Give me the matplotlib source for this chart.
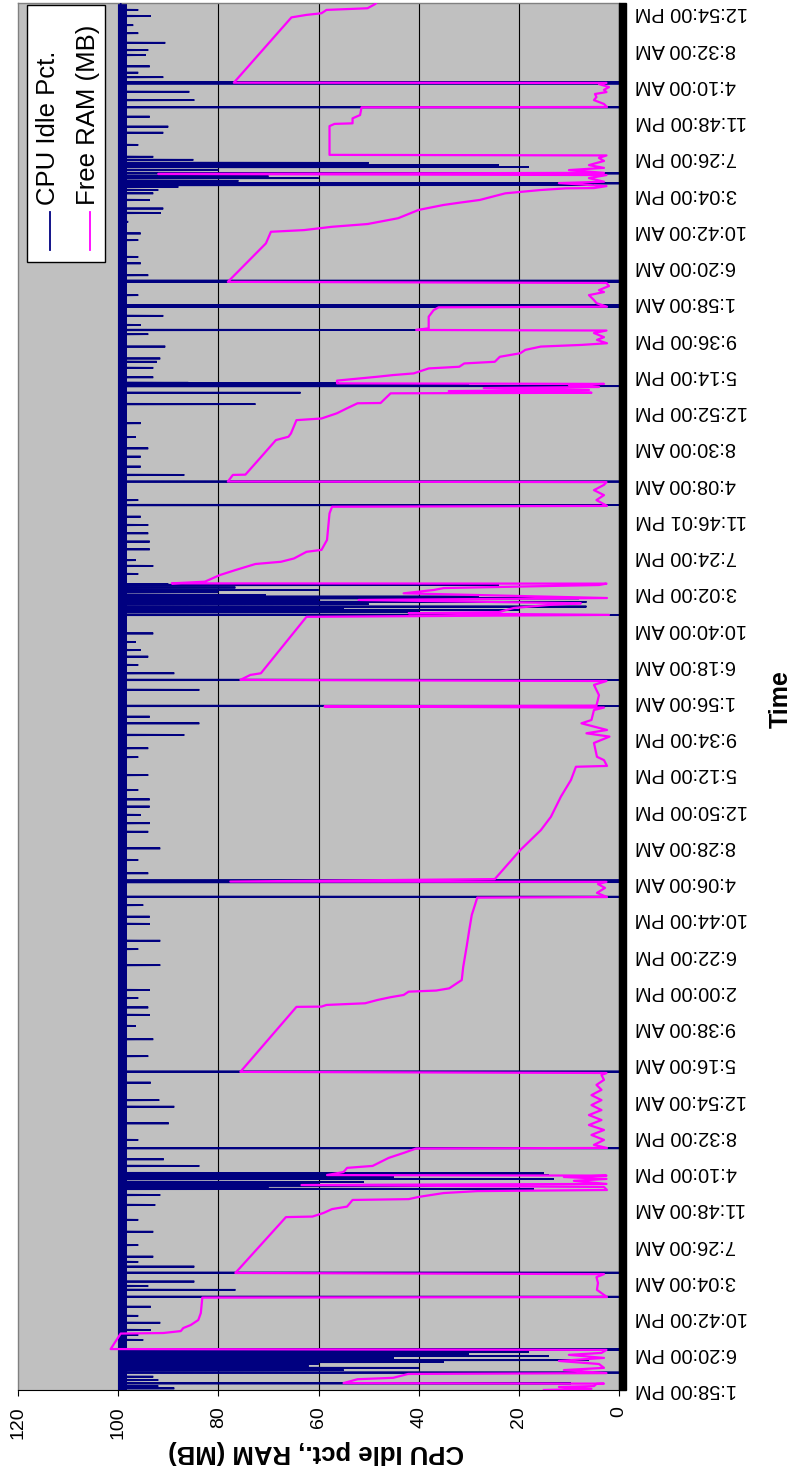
import matplotlib
matplotlib.use("Agg")
import matplotlib.pyplot as plt
from matplotlib.patches import Rectangle
from matplotlib.lines import Line2D

plt.rcParams['font.family'] = ['Liberation Sans', 'DejaVu Sans']

# ---------------- data ----------------
time_labels = [
    "1:58:00 PM", "6:20:00 PM", "10:42:00 PM", "3:04:00 AM", "7:26:00 AM",
    "11:48:00 AM", "4:10:00 PM", "8:32:00 PM", "12:54:00 AM", "5:16:00 AM",
    "9:38:00 AM", "2:00:00 PM", "6:22:00 PM", "10:44:00 PM", "4:06:00 AM",
    "8:28:00 AM", "12:50:00 PM", "5:12:00 PM", "9:34:00 PM", "1:56:00 AM",
    "6:18:00 AM", "10:40:00 AM", "3:02:00 PM", "7:24:00 PM", "11:46:01 PM",
    "4:08:00 AM", "8:30:00 AM", "12:52:00 PM", "5:14:00 PM", "9:36:00 PM",
    "1:58:00 AM", "6:20:00 AM", "10:42:00 AM", "3:04:00 PM", "7:26:00 PM",
    "11:48:00 PM", "4:10:00 AM", "8:32:00 AM", "12:54:00 PM",
]
samples_per_label = 131          # 2-minute samples between two labels
n_samples = 5014

series_names = ["CPU Idle Pct.", "Free RAM (MB)"]
value_ticks = [0, 20, 40, 60, 80, 100, 120]

# Free RAM (MB): sample index of each vertex and its value
ram_sample = [
    0, 4, 11, 14, 22, 23, 25, 39, 44, 58,
    61, 72, 80, 94, 105, 116, 127, 134, 145, 148,
    204, 206, 213, 224, 235, 253, 278, 334, 336, 362,
    387, 408, 419, 423, 625, 627, 640, 654, 663, 687,
    690, 698, 712, 719, 723, 734, 741, 745, 756, 763,
    770, 775, 777, 788, 803, 810, 839, 857, 873, 875,
    886, 904, 922, 940, 958, 976, 994, 1012, 1030, 1048,
    1066, 1085, 1103, 1121, 1139, 1146, 1150, 1385, 1386, 1392,
    1398, 1410, 1420, 1428, 1440, 1444, 1452, 1470, 1482, 1530,
    1605, 1663, 1717, 1780, 1782, 1797, 1815, 1829, 1837, 1838,
    1847, 1952, 2024, 2072, 2145, 2205, 2253, 2256, 2277, 2289,
    2339, 2362, 2374, 2386, 2410, 2422, 2458, 2467, 2471, 2474,
    2512, 2549, 2563, 2567, 2585, 2591, 2795, 2802, 2808, 2812,
    2827, 2838, 2844, 2856, 2863, 2880, 2892, 2899, 2910, 2915,
    2916, 2922, 2946, 2964, 2986, 2994, 3006, 3030, 3037, 3073,
    3169, 3193, 3196, 3217, 3235, 3253, 3272, 3282, 3284, 3308,
    3309, 3362, 3434, 3446, 3458, 3506, 3512, 3531, 3549, 3567,
    3568, 3603, 3605, 3611, 3615, 3622, 3626, 3633, 3637, 3639,
    3649, 3663, 3669, 3675, 3693, 3699, 3711, 3717, 3735, 3748,
    3760, 3772, 3778, 3784, 3796, 3806, 3821, 3830, 3832, 3838,
    3880, 3904, 3914, 3916, 3929, 3940, 3958, 3969, 3976, 3991,
    4002, 4006, 4127, 4145, 4187, 4193, 4205, 4215, 4236, 4266,
    4284, 4292, 4302, 4326, 4338, 4344, 4345, 4352, 4363, 4368,
    4381, 4392, 4396, 4400, 4410, 4418, 4428, 4443, 4454, 4463,
    4465, 4569, 4577, 4579, 4597, 4609, 4637, 4638, 4649, 4663,
    4674, 4685, 4692, 4700, 4710, 4721, 4725, 4726, 4962, 4971,
    4977, 4989, 4995, 5010, 5014,
]
ram_mb = [
    15, 5.5, 12, 5, 4.5, 3, 55, 52.2, 45.1, 42.1,
    2.5, 11, 3, 4, 12, 3, 10, 3.5, 2.5, 101.5,
    99.5, 91, 87.5, 87, 85.5, 84, 83.5, 83.2, 2.4, 4.4,
    4.2, 4.5, 3, 76.6, 66.5, 61.2, 59, 57.3, 54.3, 53.2,
    42, 40, 35, 28.3, 2.4, 3, 63.4, 2.5, 9, 2.5,
    11, 2.5, 58.3, 55, 54.3, 49.2, 46, 43, 40.5, 2.4,
    5, 3, 5.5, 3, 6, 3.5, 6, 3.5, 5.5, 3.5,
    5.5, 3.5, 4.5, 3, 3.5, 2.5, 75.6, 64.4, 59.4, 58.4,
    50.7, 48.2, 45.6, 43, 42, 36.5, 33.9, 32.4, 31.4, 31.1,
    30.4, 29.9, 29.4, 28.3, 2.4, 4.4, 2.8, 4.2, 2.5, 77.6,
    24.8, 19.7, 15.6, 13.6, 11.6, 9.6, 8.6, 2.4, 3, 4.4,
    5, 1.9, 6.5, 2.4, 7.5, 5.5, 5, 3, 58.8, 4.5,
    4, 5, 2.5, 75.6, 73.6, 71.5, 62.4, 2, 42, 24,
    21, 14, 7.6, 52, 2.4, 43, 37, 35, 4, 2.5,
    89.3, 82.7, 79.7, 76.6, 72.6, 67.5, 64.9, 62.4, 59.4, 58.3,
    57.8, 57.3, 2.4, 4.5, 3, 5, 3, 2.5, 78.1, 77.1,
    74.6, 72, 68.5, 66, 65.5, 64.4, 59.4, 56.3, 54.3, 52.2,
    47.6, 45.6, 5.5, 34, 6, 27, 4, 10, 3, 56.3,
    56.3, 48.2, 45.1, 41, 38, 31.9, 30.9, 24.8, 23.8, 19.7,
    18.7, 15.6, 7.5, 2.4, 4.4, 3, 5, 2.5, 40.5, 38,
    38, 37, 36, 2.4, 4.5, 5, 6, 3, 4, 2,
    2.5, 78.1, 71.5, 70.5, 69.5, 62.9, 57.3, 50.2, 44.1, 40,
    35, 31.9, 27.8, 22.7, 15.6, 10.6, 5, 2.5, 12, 3,
    6, 2.5, 92, 3, 10, 3, 6, 3, 4, 2.5,
    57.8, 57.8, 56.8, 53.2, 53.2, 51.7, 51.4, 2.4, 3, 5,
    4.5, 4.8, 2.5, 3, 2, 4, 2.5, 76.9, 65.4, 62.4,
    59.4, 58.4, 50.2, 48.7, 48.5,
]

# CPU idle %: near 100 most of the time, with dips at these samples
cpu_base_pct = 99.5
cpu_jitter_low = 98.3
cpu_dip_sample = [
    6, 14, 24, 36, 48, 63, 72, 80, 87, 94,
    101, 108, 116, 123, 130, 137, 145, 147, 181, 199,
    217, 243, 268, 301, 337, 362, 376, 392, 424, 446,
    463, 482, 524, 572, 615, 669, 705, 727, 734, 739,
    745, 752, 763, 770, 777, 784, 810, 834, 874, 904,
    964, 1024, 1048, 1111, 1151, 1207, 1268, 1316, 1356, 1383,
    1417, 1446, 1536, 1594, 1624, 1685, 1711, 1753, 1783, 1836,
    1842, 1868, 1916, 1958, 2018, 2049, 2079, 2109, 2135, 2169,
    2223, 2288, 2320, 2368, 2410, 2434, 2473, 2531, 2567, 2591,
    2621, 2651, 2675, 2704, 2735, 2802, 2812, 2820, 2827, 2832,
    2841, 2849, 2856, 2862, 2868, 2874, 2884, 2892, 2901, 2910,
    2913, 2950, 2979, 3000, 3039, 3067, 3097, 3127, 3157, 3199,
    3217, 3284, 3308, 3338, 3374, 3404, 3445, 3495, 3564, 3605,
    3629, 3633, 3639, 3641, 3661, 3695, 3717, 3729, 3772, 3817,
    3832, 3850, 3883, 3916, 3921, 3958, 4006, 4010, 4030, 4073,
    4096, 4157, 4181, 4223, 4255, 4271, 4302, 4326, 4338, 4349,
    4356, 4362, 4371, 4381, 4388, 4398, 4410, 4421, 4428, 4436,
    4447, 4458, 4501, 4545, 4567, 4603, 4637, 4663, 4693, 4723,
    4727, 4746, 4762, 4785, 4826, 4844, 4870, 4905, 4934, 4967,
    4989,
]
cpu_dip_pct = [
    88.8, 92, 9.6, 92, 93, 0, 55, 40, 62, 60,
    35, 6, 45, 14, 30, 18, 0, 0, 95, 96,
    93.5, 91.6, 96, 93.5, 0, 76.6, 94, 84.8, 0, 84.8,
    96, 93, 96, 93, 96, 92.6, 91.6, 17, 70, 21,
    60, 51, 13, 45, 14, 15, 83.8, 90.9, 0, 96,
    89.9, 88.8, 91.8, 93.5, 0, 94, 93, 96.5, 93.7, 94,
    96, 93.7, 91.6, 96, 91.6, 93.7, 93.7, 95, 0, 0,
    0, 94, 96, 91.6, 94, 93.7, 95.5, 93.7, 93.7, 96,
    94, 96, 94, 86.8, 83.8, 93.7, 0, 83.8, 0, 88.8,
    96, 94, 95.5, 96.5, 93, 0, 40, 20, 55, 6.5,
    50, 6.5, 60, 8, 28, 70.5, 80, 60, 76.6, 24,
    90, 96, 93, 96.5, 93.7, 93.7, 94, 94, 95.5, 0,
    96, 0, 86.8, 95.5, 95.5, 94, 96.5, 95.5, 72.6, 63.6,
    0, 30, 56, 86, 93, 93, 92.3, 91.6, 90.6, 94,
    40, 95.5, 91, 0, 0, 96, 0, 0, 94, 95.5,
    96, 96, 95.5, 98, 91.5, 91, 93.7, 93, 92, 88,
    5, 0, 76, 60, 70, 0, 80, 18, 24, 50,
    85, 93, 96, 91, 90, 93.7, 0, 84.8, 85.8, 0,
    0, 91, 96, 93.7, 94.5, 94, 90.6, 96, 97, 93.5,
    96,
]

# ---------------- build CPU line ----------------
cpu_s, cpu_v = [0], [cpu_base_pct]
for s, v in sorted(zip(cpu_dip_sample, cpu_dip_pct)):
    cpu_s += [s - 1, s, s + 1]
    cpu_v += [cpu_base_pct, v, cpu_base_pct]
cpu_s.append(n_samples)
cpu_v.append(cpu_base_pct)

# ---------------- figure ----------------
W, H = 797, 1473
fig = plt.figure(figsize=(W / 100, H / 100), dpi=100)
fig.patch.set_facecolor('white')


def fx(x):
    return x / W


def fy(y):
    return 1 - y / H


NAVY = '#000080'
MAGENTA = '#FF00FF'

ax = fig.add_axes([fx(18), fy(1390), (619 - 18) / W, (1390 - 3) / H])
ax.set_facecolor('#C0C0C0')
ax.set_xlim(value_ticks[-1], value_ticks[0])
ax.set_ylim(0, n_samples)

for v in value_ticks[1:-1]:
    ax.axvline(v, color='black', lw=0.8, zorder=1)

ax.fill_betweenx([0, n_samples], cpu_jitter_low, 100, color=NAVY, lw=0, zorder=2)
ax.plot(cpu_v, cpu_s, color=NAVY, lw=1.3, zorder=3, solid_joinstyle='miter')
ax.plot(ram_mb, ram_sample, color=MAGENTA, lw=1.6, zorder=4)

# value axis (bottom)
ax.set_xticks(value_ticks)
ax.set_xticklabels([str(v) for v in value_ticks], rotation=90, fontsize=14)
ax.tick_params(axis='x', direction='out', length=4.5, width=0.8, pad=7,
               color='black')

# time axis (right)
ax.yaxis.tick_right()
ax.set_yticks([i * samples_per_label for i in range(len(time_labels))])
ax.set_yticklabels(time_labels, rotation=180, fontsize=14.4,
                   va='center', ha='left')
ax.tick_params(axis='y', length=0, pad=11.5)

for side in ('left', 'top'):
    ax.spines[side].set_color('#808080')
    ax.spines[side].set_linewidth(1.0)
ax.spines['bottom'].set_color('black')
ax.spines['right'].set_color('black')

# dense tick marks of the category axis merge into a black band
ax.add_patch(Rectangle((1.0, 0), 7 / 601, 1, transform=ax.transAxes,
                       clip_on=False, color='black', zorder=5))

# axis titles
fig.text(fx(316), fy(1452), "CPU Idle pct., RAM (MB)", rotation=180,
         fontsize=18.5, fontweight='bold', ha='center', va='center')
fig.text(fx(781), fy(699), "Time", rotation=90, fontsize=18,
         fontweight='bold', ha='center', va='center')

# legend
fig.patches.append(Rectangle((fx(27), fy(262)), (105 - 27) / W, (262 - 5) / H,
                             transform=fig.transFigure, fc='white',
                             ec='black', lw=1.0, zorder=10))
for name, col, xc in zip(series_names, [NAVY, MAGENTA], [48, 88]):
    fig.lines.append(Line2D([fx(xc + 2), fx(xc + 2)], [fy(250), fy(212)],
                            transform=fig.transFigure, color=col, lw=1.3,
                            zorder=11))
    fig.text(fx(xc), fy(205), name, rotation=90, ha='center', va='bottom',
             fontsize=18.5, zorder=12)

fig.savefig('out.png', dpi=100, facecolor='white')
